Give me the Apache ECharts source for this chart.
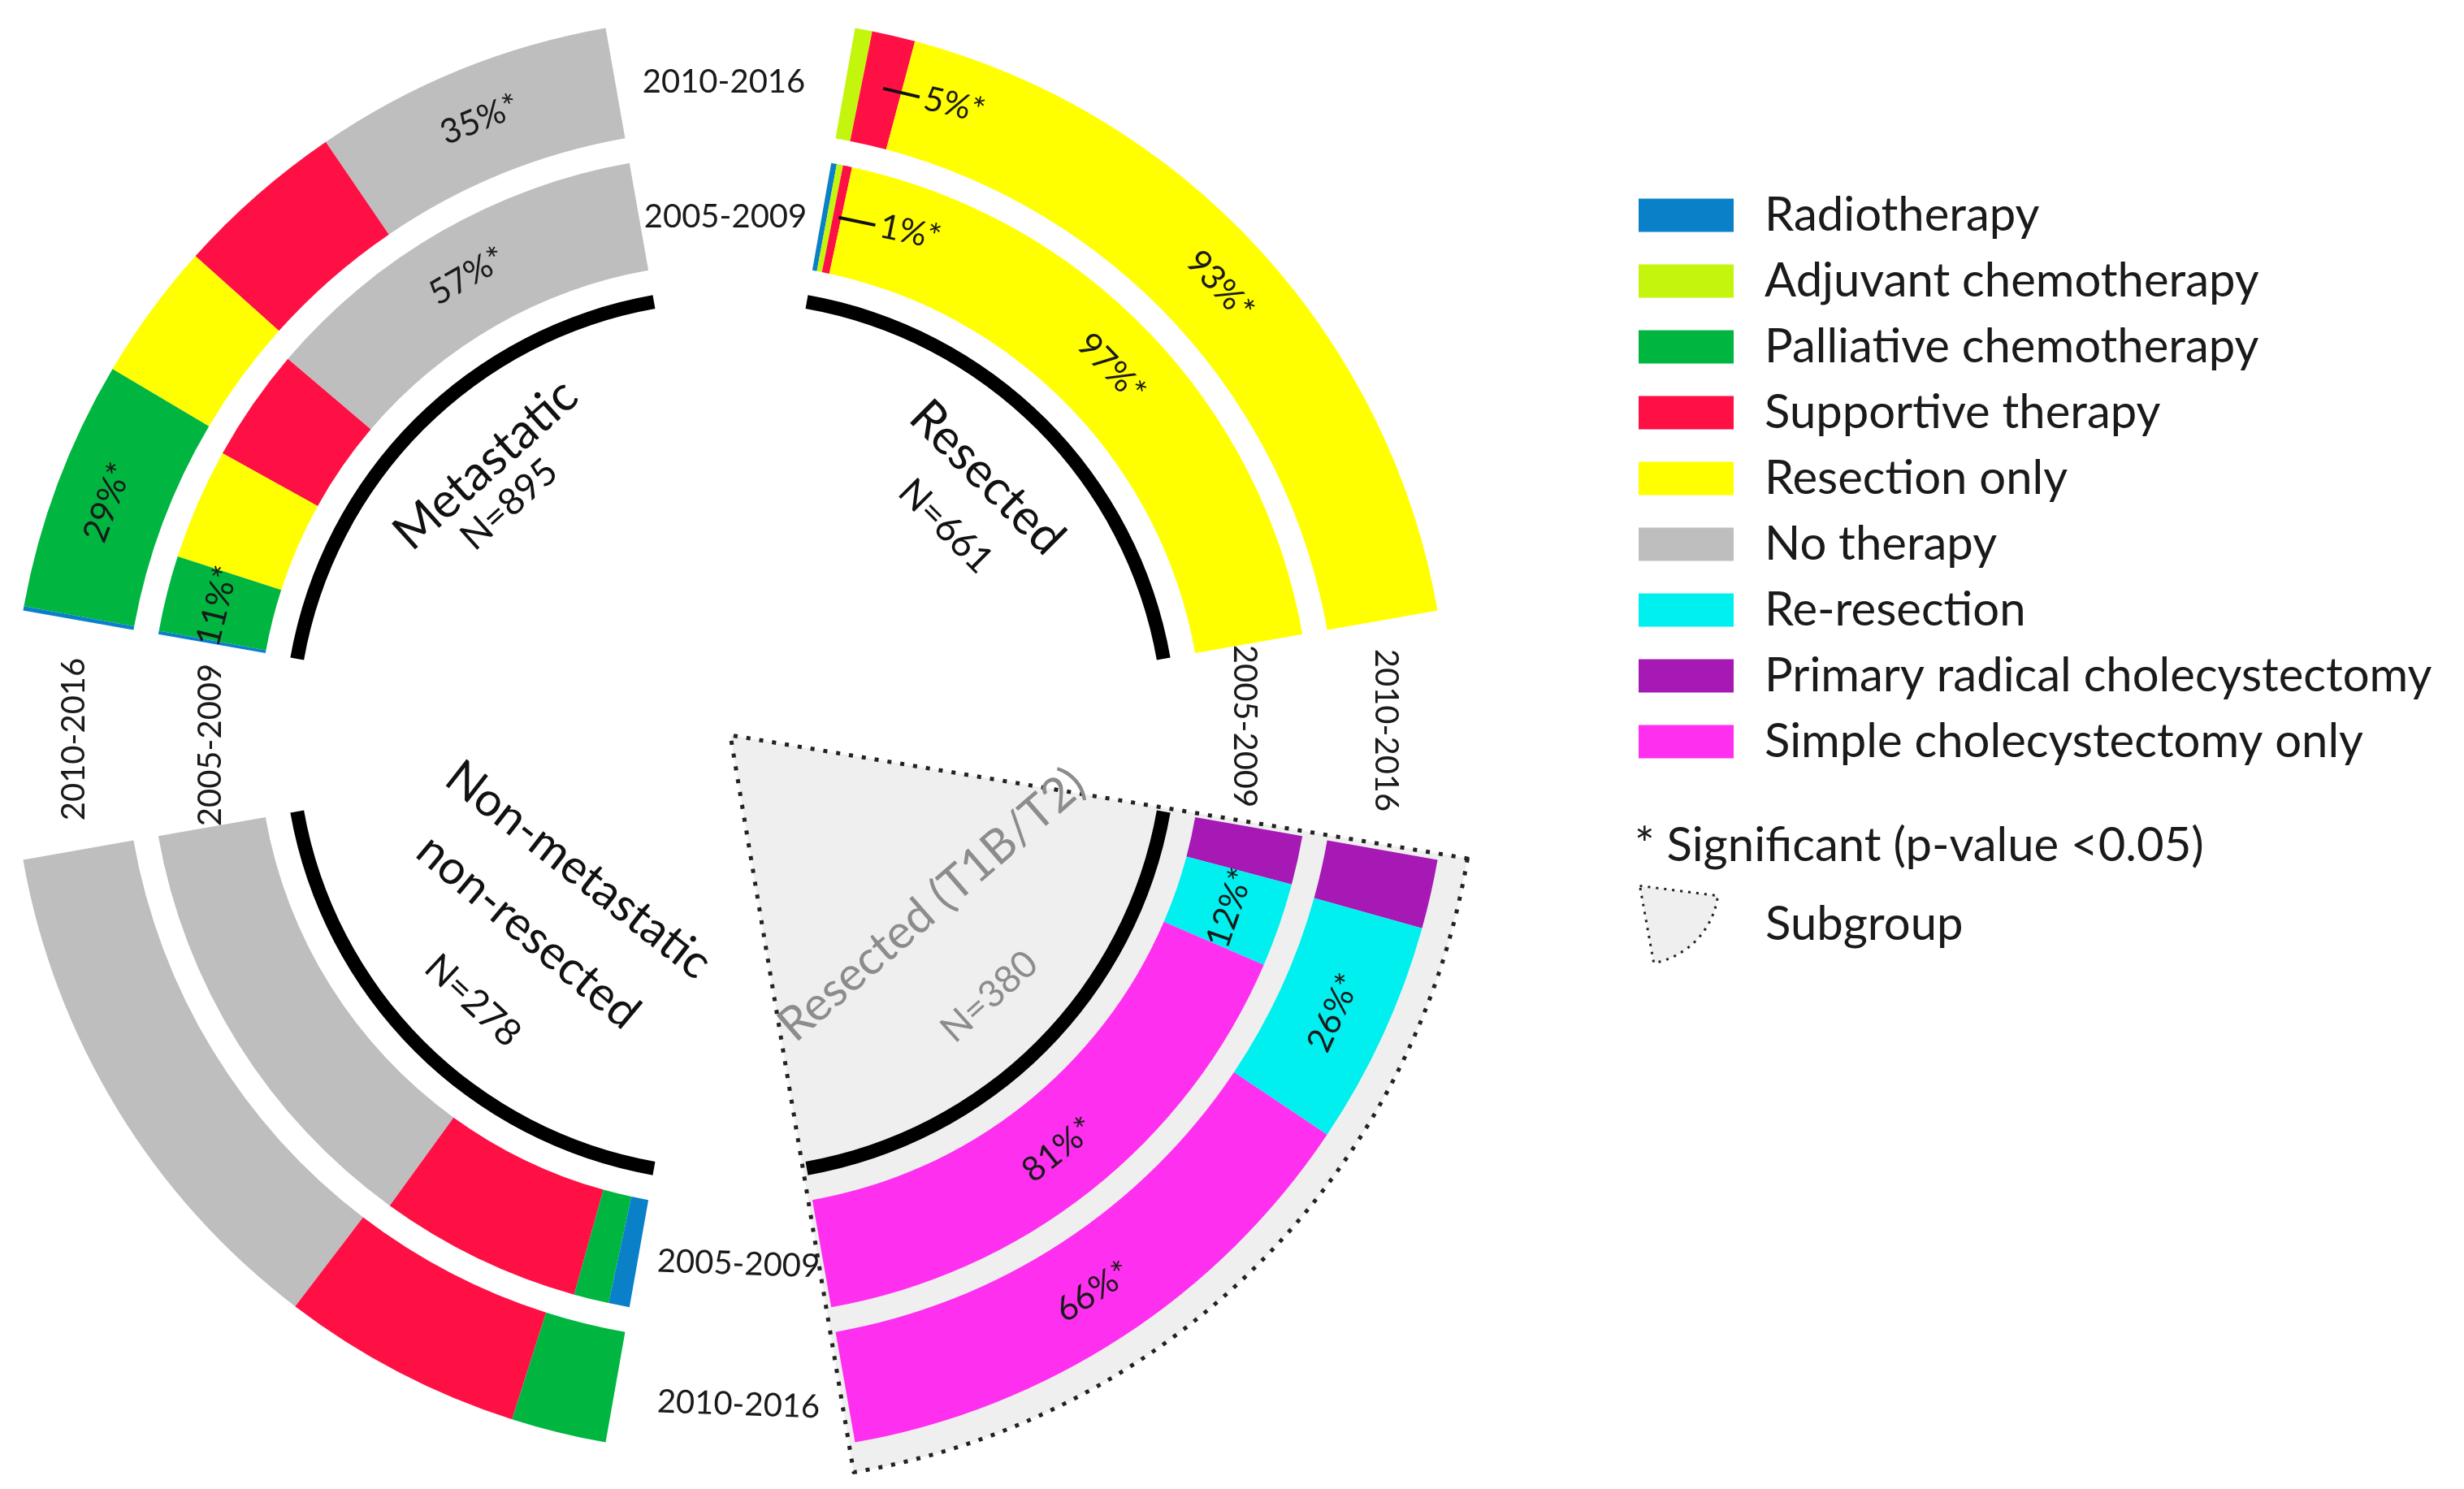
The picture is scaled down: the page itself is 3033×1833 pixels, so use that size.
<!DOCTYPE html>
<html><head><meta charset="utf-8">
<script src="https://cdn.jsdelivr.net/npm/echarts@6/dist/echarts.min.js"></script>
<style>html,body{margin:0;padding:0;background:#fff}#c{width:3033px;height:1833px}</style>
</head><body><div id="c"></div>
<script>
// ---------------- DATA ----------------
const treatments = ['Radiotherapy','Adjuvant chemotherapy','Palliative chemotherapy','Supportive therapy','Resection only','No therapy','Re-resection','Primary radical cholecystectomy','Simple cholecystectomy only'];
const periods = ['2005-2009','2010-2016'];
const groups = ['Metastatic','Resected','Non-metastatic','non-resected','Resected (T1B/T2)'];
const groupN = [895, 661, 278, 380];

// Metastatic (values in % of patients)
const metCats = ['No therapy','Supportive therapy','Resection only','Palliative chemotherapy','Radiotherapy'];
const met0509 = [56.6, 16.2, 15.9, 10.8, 0.5];
const met1016 = [34.7, 19.8, 16.0, 29.0, 0.5];
const metLab0509 = ['57%*','','','11%*',''];
const metLab1016 = ['35%*','','','29%*',''];

// Resected
const resCats = ['Radiotherapy','Adjuvant chemotherapy','Supportive therapy','Resection only'];
const res0509 = [0.8, 0.9, 1.3, 97.0];
const res1016 = [0, 2.0, 5.0, 93.0];
const resLab0509 = ['','','1%*','97%*'];
const resLab1016 = ['','','5%*','93%*'];

// Non-metastatic non-resected
const nmCats = ['No therapy','Supportive therapy','Palliative chemotherapy','Radiotherapy'];
const nm0509 = [63, 29, 5, 3];
const nm1016 = [61, 28, 11, 0];

// Resected (T1B/T2) subgroup
const subCats = ['Primary radical cholecystectomy','Re-resection','Simple cholecystectomy only'];
const sub0509 = [7, 12, 81];
const sub1016 = [8, 26, 66];
const subLab0509 = ['','12%*','81%*'];
const subLab1016 = ['','26%*','66%*'];

// ---------------- STYLE / LAYOUT ----------------
const palette = ['#0a80c8','#c4f50c','#00b640','#ff1044','#ffff00','#bebebe','#00f0f0','#a619b5','#ff2ff0'];
const colorOf = Object.fromEntries(treatments.map((t,i)=>[t, palette[i]]));
const FONT = 'Lato';
const CX = 899, CY = 905;
const SPAN = 70;
const R_IN = [581, 715], R_OUT = [746, 884], R_ARC = [533, 550], R_SUB = 920;
const Q = [
  {start: 100, clockwise: false},
  {start: 80,  clockwise: true},
  {start: 190, clockwise: false},
  {start: -10, clockwise: true}
];
const LBL = 42;

function filler(total, span) {
  return {name: '_gap', value: total * (360 - span) / span,
          itemStyle: {color: 'rgba(0,0,0,0)', borderWidth: 0}, label: {show: false}};
}

function ring(cats, vals, labels, radius, q) {
  const total = vals.reduce((a,b)=>a+b, 0);
  const data = cats.map((c,i)=>{
    const lab = labels ? labels[i] : '';
    const d = {name: c, value: vals[i], itemStyle: {color: colorOf[c]}};
    if (!lab) d.label = {show: false};
    else if (vals[i] < 8) {
      d.label = {show: true, formatter: '{s|\u00a0}{l|\u00a0}{t|' + lab + '}'};
    } else d.label = {show: true, formatter: lab};
    return d;
  });
  data.push(filler(total, SPAN));
  return {
    type: 'pie', center: [CX, CY], radius: radius, startAngle: q.start, clockwise: q.clockwise,
    silent: true, avoidLabelOverlap: false, legendHoverLink: false, z: 3,
    labelLine: {show: false},
    label: {position: 'inside', rotate: 'tangential', fontSize: LBL, fontFamily: FONT, color: '#1a1a1a',
      rich: {
        s: {width: 132, fontSize: LBL},
        l: {width: 46, height: 4, backgroundColor: '#111'},
        t: {fontSize: LBL, fontFamily: FONT, color: '#1a1a1a', padding: [0,0,0,6]}
      }},
    data: data
  };
}

function arc(q) {
  return {
    type: 'pie', center: [CX, CY], radius: R_ARC, startAngle: q.start, clockwise: q.clockwise,
    silent: true, z: 3, label: {show: false}, labelLine: {show: false},
    data: [{name: 'arc', value: SPAN, itemStyle: {color: '#000'}}, filler(SPAN, SPAN)]
  };
}

const series = [
  {
    type: 'pie', center: [CX, CY], radius: [0, R_SUB], startAngle: -9.5, clockwise: true,
    silent: true, z: 1, label: {show: false}, labelLine: {show: false},
    data: [
      {name: 'Subgroup', value: SPAN + 1,
       itemStyle: {color: '#efefef', borderColor: '#222', borderWidth: 5, borderType: [5, 11]}},
      filler(SPAN + 1, SPAN + 1)
    ]
  },
  ring(metCats, met0509, metLab0509, R_IN, Q[0]),
  ring(metCats, met1016, metLab1016, R_OUT, Q[0]),
  ring(resCats, res0509, resLab0509, R_IN, Q[1]),
  ring(resCats, res1016, resLab1016, R_OUT, Q[1]),
  ring(nmCats, nm0509, null, R_IN, Q[2]),
  ring(nmCats, nm1016, null, R_OUT, Q[2]),
  ring(subCats, sub0509, subLab0509, R_IN, Q[3]),
  ring(subCats, sub1016, subLab1016, R_OUT, Q[3]),
  arc(Q[0]), arc(Q[1]), arc(Q[2]), arc(Q[3])
];

// text annotations
const deg = Math.PI / 180;
const centerTexts = [
  {t: groups[0], x: 598, y: 572, r: 42, s: 60, c: '#111'},
  {t: 'N=' + groupN[0], x: 627, y: 621, r: 42, s: 46, c: '#111'},
  {t: groups[1], x: 1215, y: 588, r: -45, s: 60, c: '#111'},
  {t: 'N=' + groupN[1], x: 1164, y: 648, r: -45, s: 46, c: '#111'},
  {t: groups[2], x: 712, y: 1071, r: -38, s: 58, c: '#111'},
  {t: groups[3], x: 650, y: 1147, r: -40, s: 58, c: '#111'},
  {t: 'N=' + groupN[2], x: 582, y: 1232, r: -43, s: 46, c: '#111'},
  {t: groups[4], x: 1147, y: 1114, r: 41, s: 58, c: '#8c8c8c'},
  {t: 'N=' + groupN[3], x: 1218, y: 1227, r: 42, s: 46, c: '#8c8c8c'}
];
const yearTexts = [
  {t: periods[1], x: 891, y: 101, r: 0},
  {t: periods[0], x: 893, y: 267, r: 0},
  {t: periods[1], x: 91, y: 910, r: 90},
  {t: periods[0], x: 259, y: 917, r: 90},
  {t: periods[0], x: 1532, y: 894, r: -90},
  {t: periods[1], x: 1706, y: 899, r: -90},
  {t: periods[0], x: 909, y: 1556, r: -2},
  {t: periods[1], x: 909, y: 1729, r: -2}
];
const elements = [];
centerTexts.forEach(o => elements.push({type: 'text', x: o.x, y: o.y, rotation: o.r * deg, z: 2,
  style: {text: o.t, fontSize: o.s, fontFamily: FONT, fill: o.c, align: 'center', verticalAlign: 'middle'}}));
yearTexts.forEach(o => elements.push({type: 'text', x: o.x, y: o.y, rotation: o.r * deg, z: 5,
  style: {text: o.t, fontSize: 40, fontFamily: FONT, fill: '#1a1a1a', align: 'center', verticalAlign: 'middle'}}));
elements.push({type: 'text', x: 2012, y: 1041, z: 5,
  style: {text: '* Significant (p-value <0.05)', fontSize: 58, fontFamily: FONT, fill: '#1a1a1a', align: 'left', verticalAlign: 'middle'}});

const chart = echarts.init(document.getElementById('c'), null, {renderer: 'canvas'});
chart.setOption({
  backgroundColor: '#ffffff',
  animation: false,
  legend: [
    {
      data: treatments, orient: 'vertical', left: 2012, top: 231, icon: 'rect',
      itemWidth: 117, itemHeight: 41, itemGap: 23, selectedMode: false,
      textStyle: {fontSize: 58, fontFamily: FONT, color: '#1a1a1a', padding: [0, 0, 0, 33]}
    },
    {
      data: ['Subgroup'], orient: 'vertical', left: 2012, top: 1084, selectedMode: false,
      icon: 'path://M0,0 L95,12 A96,96 0 0 1 17,94 Z',
      itemWidth: 97, itemHeight: 95,
      itemStyle: {color: '#efefef', borderColor: '#222', borderWidth: 3, borderType: [3, 7]},
      textStyle: {fontSize: 58, fontFamily: FONT, color: '#1a1a1a', padding: [0, 0, 0, 53]}
    }
  ],
  graphic: {elements: elements},
  series: series
});
</script>
</body></html>
